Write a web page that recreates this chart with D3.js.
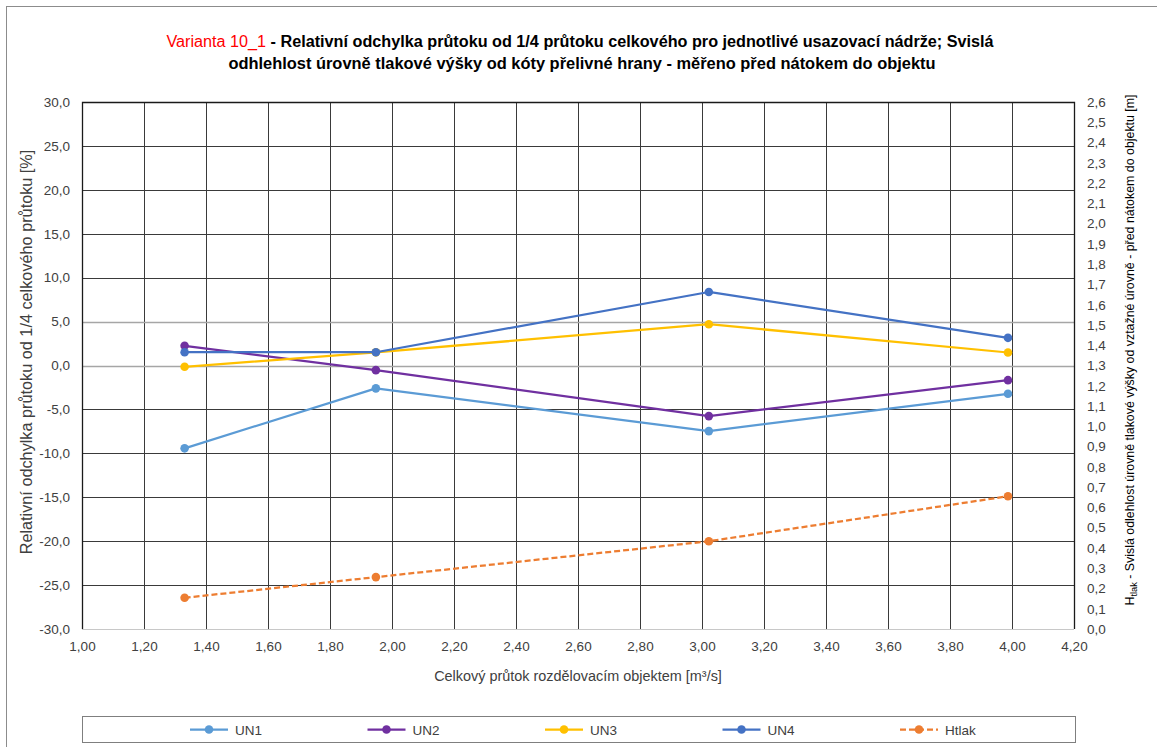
<!DOCTYPE html>
<html><head><meta charset="utf-8">
<script src="https://cdn.jsdelivr.net/npm/d3@7"></script>
<style>
body{margin:0;background:#fff;}
svg{display:block;}
text{font-family:"Liberation Sans Narrow","Arial Narrow","Liberation Sans",sans-serif;}
</style></head>
<body><svg id="c" width="1157" height="747"></svg>
<script>
// ---- data ----
const xValues = [1.331, 1.948, 3.022, 3.987];
const un1 = [-9.43, -2.6, -7.47, -3.22];
const un2 = [2.24, -0.53, -5.76, -1.67];
const un3 = [-0.15, 1.5, 4.7, 1.48];
const un4 = [1.51, 1.51, 8.37, 3.15];
const htlak = [0.154, 0.256, 0.433, 0.655];
const seriesNames = ["UN1", "UN2", "UN3", "UN4", "Htlak"];
const xTicks = d3.range(0, 17).map(i => 1 + i * 0.2);
const yLeftTicks = d3.range(0, 13).map(i => -30 + i * 5);
const yRightTicks = d3.range(0, 27).map(i => i * 0.1);
const titleRed = "Varianta 10_1";
const titleRest1 = " - Relativní odchylka průtoku od 1/4 průtoku celkového pro jednotlivé usazovací nádrže; Svislá";
const titleLine2 = "odhlehlost úrovně tlakové výšky od kóty přelivné hrany - měřeno před nátokem do objektu";
const xTitle = "Celkový průtok rozdělovacím objektem [m³/s]";
const yLeftTitle = "Relativní odchylka průtoku od 1/4 celkového průtoku [%]";
const yRightTitleMain = " - Svislá odlehlost úrovně tlakové výšky od vztažné úrovně - před nátokem do objektu [m]";

const colors = ["#5B9BD5", "#7030A0", "#FFC000", "#4472C4", "#ED7D31"];

const loc = d3.formatLocale({decimal: ",", thousands: " ", grouping: [3], currency: ["", ""], minus: "-"});
const f1 = loc.format(".1f"), f2 = loc.format(".2f");

const svg = d3.select("#c");
svg.append("rect").attr("width", 1157).attr("height", 747).attr("fill", "#fff");
svg.append("rect").attr("x", 6.5).attr("y", 6.5).attr("width", 1200).attr("height", 800)
  .attr("fill", "none").attr("stroke", "#8c8c8c");

const L = 82, R = 1074, T = 102, B = 629;
const x = d3.scaleLinear().domain([1, 4.2]).range([L, R]);
const yL = d3.scaleLinear().domain([-30, 30]).range([B, T]);
const yR = d3.scaleLinear().domain([0, 2.6]).range([B, T]);

function fit(sel, target) {
  const w = sel.node().getComputedTextLength();
  const fs = parseFloat(sel.attr("font-size"));
  sel.attr("font-size", fs * target / w);
}

// gridlines
const g = svg.append("g");
g.selectAll(".vg").data(xTicks.slice(1, -1)).join("line")
  .attr("x1", d => Math.round(x(d)) + 0.5).attr("x2", d => Math.round(x(d)) + 0.5)
  .attr("y1", T).attr("y2", B).attr("stroke", "#3a3a3a").attr("stroke-width", 1);
g.selectAll(".hg").data(yLeftTicks.slice(1, -1)).join("line")
  .attr("y1", d => Math.round(yL(d)) + 0.5).attr("y2", d => Math.round(yL(d)) + 0.5)
  .attr("x1", L).attr("x2", R).attr("stroke", d => (d === 0 || d === 5) ? "#a6a6a6" : "#3a3a3a").attr("stroke-width", d => (d === 0 || d === 5) ? 1.5 : 1);
// plot border
g.append("line").attr("x1", L).attr("x2", R).attr("y1", B + 0.5).attr("y2", B + 0.5).attr("stroke", "#c8c8c8");
g.append("path").attr("d", `M${L + 0.5},${B}V${T + 0.5}H${R + 0.5}V${B}`).attr("fill", "none").attr("stroke", "#1a1a1a").attr("stroke-width", 1.3);

// axes via d3 axis (labels only)
const axL = svg.append("g").attr("transform", `translate(${L},0)`)
  .call(d3.axisLeft(yL).tickValues(yLeftTicks).tickFormat(f1).tickSize(0).tickPadding(12));
const axR = svg.append("g").attr("transform", `translate(${R},0)`)
  .call(d3.axisRight(yR).tickValues(yRightTicks).tickFormat(f1).tickSize(0).tickPadding(13));
const axB = svg.append("g").attr("transform", `translate(0,${B})`)
  .call(d3.axisBottom(x).tickValues(xTicks).tickFormat(f2).tickSize(0).tickPadding(12));
[axL, axR, axB].forEach(a => {
  a.select(".domain").remove();
  a.selectAll("text").attr("font-size", 13.5).attr("fill", "#404040")
    .style("font-family", '"Liberation Sans Narrow","Arial Narrow","Liberation Sans",sans-serif');
});

// series
const leftSeries = [un1, un2, un3, un4];
leftSeries.forEach((vals, i) => {
  const pts = vals.map((v, j) => [x(xValues[j]), yL(v)]);
  svg.append("path").attr("d", d3.line()(pts)).attr("fill", "none")
    .attr("stroke", colors[i]).attr("stroke-width", 2.25).attr("stroke-linejoin", "round");
  svg.selectAll(null).data(pts).join("circle").attr("cx", d => d[0]).attr("cy", d => d[1])
    .attr("r", 4.3).attr("fill", colors[i]);
});
{
  const pts = htlak.map((v, j) => [x(xValues[j]), yR(v)]);
  svg.append("path").attr("d", d3.line()(pts)).attr("fill", "none")
    .attr("stroke", colors[4]).attr("stroke-width", 2.25).attr("stroke-dasharray", "6,3");
  svg.selectAll(null).data(pts).join("circle").attr("cx", d => d[0]).attr("cy", d => d[1])
    .attr("r", 4.3).attr("fill", colors[4]);
}

// titles
const t1 = svg.append("text").attr("x", 580).attr("y", 47).attr("text-anchor", "middle")
  .attr("font-size", 16).attr("font-weight", "bold").attr("fill", "#000");
t1.append("tspan").attr("fill", "#ff0000").attr("font-weight", "normal").text(titleRed);
t1.append("tspan").text(titleRest1);
fit(t1, 828);
const t2 = svg.append("text").attr("x", 582).attr("y", 69).attr("text-anchor", "middle")
  .attr("font-size", 16).attr("font-weight", "bold").attr("fill", "#000").text(titleLine2);
fit(t2, 708);

const xt = svg.append("text").attr("x", 578).attr("y", 681).attr("text-anchor", "middle")
  .attr("font-size", 14).attr("fill", "#404040").text(xTitle);
fit(xt, 288);

const ylt = svg.append("text").attr("transform", "translate(32,352) rotate(-90)").attr("text-anchor", "middle")
  .attr("font-size", 14).attr("fill", "#404040").text(yLeftTitle);
fit(ylt, 405);

const yrt = svg.append("text").attr("transform", "translate(1134,350) rotate(-90)").attr("text-anchor", "middle")
  .attr("font-size", 13).attr("fill", "#000");
yrt.append("tspan").text("H");
yrt.append("tspan").attr("font-size", "0.75em").attr("dy", 3).text("tlak");
yrt.append("tspan").attr("dy", -3).text(yRightTitleMain);
fit(yrt, 512);

// legend
svg.append("rect").attr("x", 82.5).attr("y", 716.5).attr("width", 993).attr("height", 26)
  .attr("fill", "#fff").attr("stroke", "#7f7f7f");
seriesNames.forEach((name, i) => {
  const cx = 209 + i * 177.5, cy = 729.5;
  svg.append("line").attr("x1", cx - 19).attr("x2", cx + 19).attr("y1", cy).attr("y2", cy)
    .attr("stroke", colors[i]).attr("stroke-width", 2.25)
    .attr("stroke-dasharray", i === 4 ? "6,3" : null);
  svg.append("circle").attr("cx", cx).attr("cy", cy).attr("r", 4.3).attr("fill", colors[i]);
  svg.append("text").attr("x", cx + 26).attr("y", cy + 5).attr("font-size", 13.5).attr("fill", "#404040").text(name);
});
</script></body></html>
